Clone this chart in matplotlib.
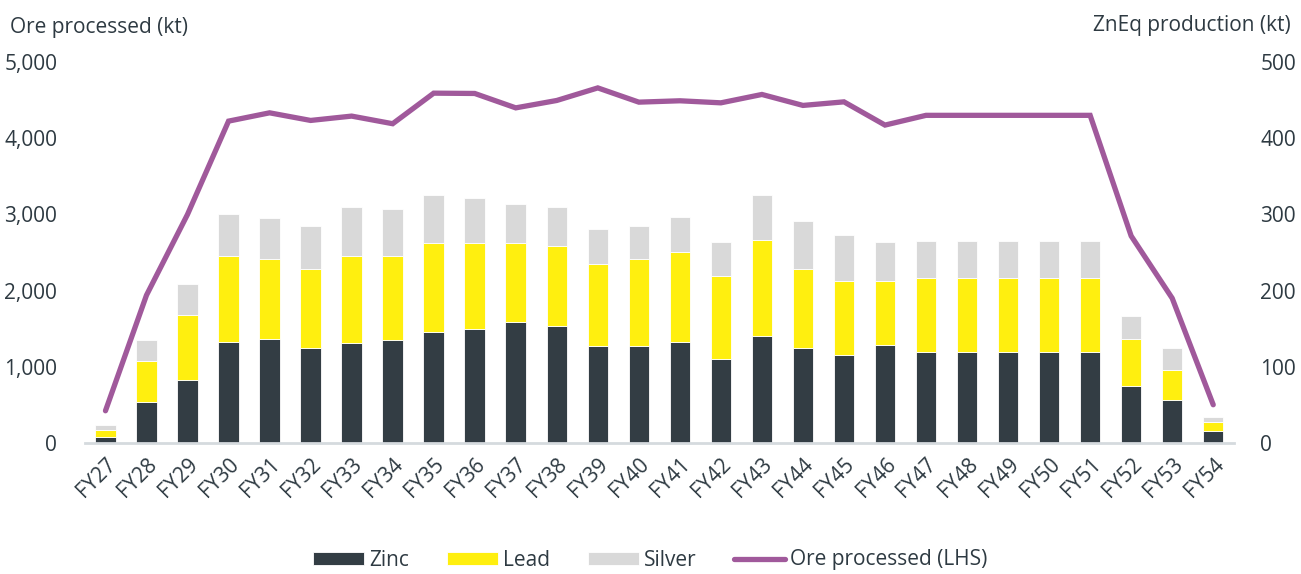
import matplotlib.pyplot as plt
import numpy as np

plt.rcParams['font.family'] = ['Open Sans', 'DejaVu Sans']

years = [f"FY{y}" for y in range(27, 55)]

# ZnEq production by metal (kt) - right axis
zinc = [8, 54, 83, 132, 137, 125, 131, 135, 146, 150, 159, 154, 127, 127,
        133, 110, 141, 125, 115, 129, 120, 120, 120, 120, 120, 75, 57, 16]
lead = [9, 54, 85, 113, 105, 103, 114, 110, 117, 113, 103, 105, 108, 114,
        118, 109, 125, 104, 98, 84, 96, 96, 96, 96, 96, 61, 39, 11]
silver = [6, 27, 41, 56, 53, 57, 65, 62, 63, 59, 52, 51, 46, 44,
          46, 45, 60, 62, 60, 51, 49, 49, 49, 49, 49, 31, 29, 7]

# Ore processed (kt) - left axis
ore = [423, 1940, 3000, 4224, 4333, 4233, 4290, 4190, 4591, 4587, 4398, 4495,
       4660, 4473, 4491, 4464, 4574, 4430, 4477, 4172, 4300, 4300, 4300, 4300,
       4300, 2717, 1900, 502]

c_zinc = '#333d44'
c_lead = '#ffef0f'
c_silver = '#d9d9d9'
c_ore = '#a0599b'
c_text = '#2e3a42'
fs = 15

fig = plt.figure(figsize=(13.01, 5.74), dpi=100)
ax = fig.add_axes([0.0653, 0.2282, 0.883, 0.6638])
ax2 = ax.twinx()

x = np.arange(len(years))
zinc = np.array(zinc)
lead = np.array(lead)
silver = np.array(silver)

w = 0.5
b1 = ax2.bar(x, zinc, w, color=c_zinc, edgecolor='white', linewidth=0.6, label='Zinc')
b2 = ax2.bar(x, lead, w, bottom=zinc, color=c_lead, edgecolor='white', linewidth=0.6, label='Lead')
b3 = ax2.bar(x, silver, w, bottom=zinc + lead, color=c_silver, edgecolor='white', linewidth=0.6, label='Silver')

# line drawn on left axis but needs to sit on top of bars
ax.set_zorder(ax2.get_zorder() + 1)
ax.patch.set_visible(False)
ln, = ax.plot(x, ore, color=c_ore, linewidth=3.8, solid_capstyle='round',
              solid_joinstyle='miter', label='Ore processed (LHS)')

ax.set_xlim(-0.5, 27.5)
ax.set_ylim(0, 5000)
ax2.set_ylim(0, 500)
ax.set_yticks(range(0, 5001, 1000))
ax.set_yticklabels([f"{v:,}" for v in range(0, 5001, 1000)])
ax2.set_yticks(range(0, 501, 100))

ax.set_xticks(x)
ax.set_xticklabels(years, rotation=45, ha='right', rotation_mode='anchor')

for a in (ax, ax2):
    for s in ['top', 'left', 'right', 'bottom']:
        a.spines[s].set_visible(False)
    a.tick_params(length=0, labelsize=fs, colors=c_text)

ax.spines['bottom'].set_visible(True)
ax.spines['bottom'].set_color('#d5dade')
ax.spines['bottom'].set_linewidth(2)
ax.tick_params(axis='y', pad=20)
ax.tick_params(axis='x', pad=8)
ax2.tick_params(axis='y', pad=19)

fig.text(10 / 1301, 1 - 27 / 574, 'Ore processed (kt)', fontsize=fs, color=c_text,
         ha='left', va='center')
fig.text(1291 / 1301, 1 - 25 / 574, 'ZnEq production (kt)', fontsize=fs, color=c_text,
         ha='right', va='center')

fig.legend([b1, b2, b3, ln], ['Zinc', 'Lead', 'Silver', 'Ore processed (LHS)'],
           loc='center', bbox_to_anchor=(0.5, 1 - 560 / 574), ncol=4, frameon=False,
           fontsize=fs, labelcolor=c_text, handlelength=2.45, handleheight=0.6,
           handletextpad=0.25, columnspacing=1.8, borderpad=0)

fig.savefig('out.png', dpi=100)
